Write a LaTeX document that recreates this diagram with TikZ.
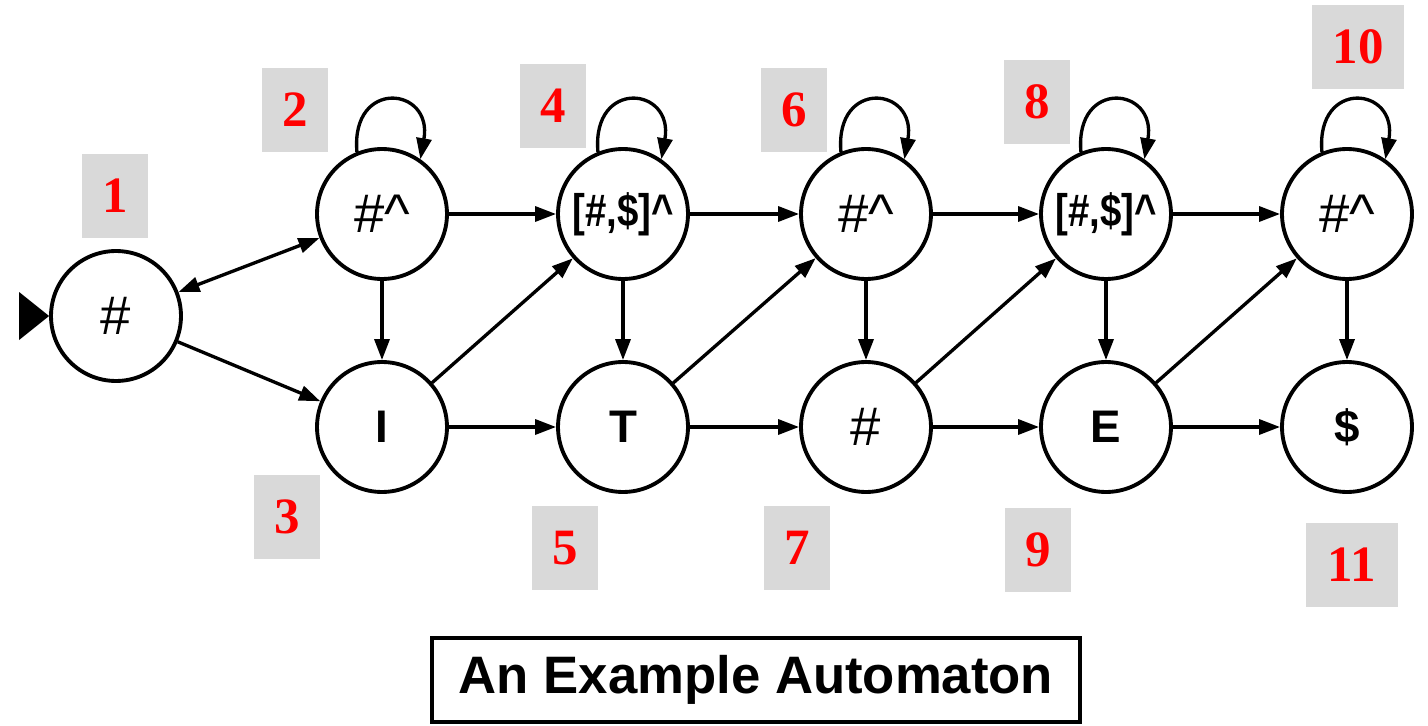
\documentclass[tikz,border=0pt]{standalone}
\usepackage{fontspec}
\setmainfont{Liberation Sans}
\newfontfamily\numserif{Liberation Serif}
\usepackage{xcolor}
\usepackage{graphicx}
\usetikzlibrary{arrows.meta,positioning}

\definecolor{lblgray}{RGB}{217,217,217}
\definecolor{lblred}{RGB}{255,0,0}

\newcommand{\hashtxt}[1]{\fontsize{31}{34}\selectfont #1}
\newcommand{\boldtxt}[1]{\bfseries\fontsize{26}{30}\selectfont #1}

\tikzset{
  state/.style={circle, draw, line width=2.2pt, minimum size=2.6cm, inner sep=0pt},
  num/.style={fill=lblgray, minimum width=1.32cm, minimum height=1.7cm, inner sep=0pt,
    text=lblred, font=\numserif\bfseries\fontsize{29}{32}\selectfont},
  arr/.style={line width=1.9pt, >={Triangle[length=0.42cm,width=0.3cm]}},
}

\begin{document}
\begin{tikzpicture}[x=0.02cm, y=0.02cm]
  \useasboundingbox (0,0) rectangle (1428,725);

  % States
  \node[state] (s1)  at (116,409)  {\hashtxt{\#}};
  \node[state] (s2)  at (382,511)  {\hashtxt{\#\textasciicircum}};
  \node[state] (s3)  at (382,298)  {\boldtxt{I}};
  \node[state] (s4)  at (623,511)  {\scalebox{0.84}[1]{\boldtxt{[\#,\$]\textasciicircum}}};
  \node[state] (s5)  at (623,298)  {\boldtxt{T}};
  \node[state] (s6)  at (866,511)  {\hashtxt{\#\textasciicircum}};
  \node[state] (s7)  at (866,298)  {\hashtxt{\#}};
  \node[state] (s8)  at (1106,511) {\scalebox{0.84}[1]{\boldtxt{[\#,\$]\textasciicircum}}};
  \node[state] (s9)  at (1106,298) {\boldtxt{E}};
  \node[state] (s10) at (1347,511) {\hashtxt{\#\textasciicircum}};
  \node[state] (s11) at (1347,298) {\boldtxt{\$}};

  % Start marker
  \fill (s1.west) -- ++(-30,24) -- ++(0,-48) -- cycle;

  % Number labels
  \node[num] (l1)  at (115,529)  {1};
  \node[num] (l2)  at (295,615)  {2};
  \node[num] (l3)  at (287,208)  {3};
  \node[num] (l4)  at (553,619)  {4};
  \node[num] (l5)  at (565,177)  {5};
  \node[num] (l6)  at (794,615)  {6};
  \node[num] (l7)  at (797,177)  {7};
  \node[num] (l8)  at (1037,623) {8};
  \node[num] (l9)  at (1038,175) {9};
  \node[num, minimum width=1.84cm] (l10) at (1358,678) {10};
  \node[num, minimum width=1.84cm] (l11) at (1352,160) {11};

  % Transitions
  \draw[arr, <->] (s1) -- (s2);
  \foreach \a/\b in {s1/s3, s2/s3, s2/s4, s3/s4, s3/s5, s4/s5, s4/s6, s5/s6, s5/s7,
                     s6/s7, s6/s8, s7/s8, s7/s9, s8/s9, s8/s10, s9/s10, s9/s11, s10/s11} {
    \draw[arr, ->] (\a) -- (\b);
  }

  % Self loops
  \foreach \s in {s2, s4, s6, s8, s10} {
    \draw[arr, ->] (\s.112) .. controls +(95:74) and +(80:74) .. (\s.55);
  }

  % Title
  \node[draw, line width=2.3pt, minimum width=12.96cm, minimum height=1.68cm,
        font=\bfseries\fontsize{30}{34}\selectfont] (title) at (756,45) {An Example Automaton};

\end{tikzpicture}
\end{document}
